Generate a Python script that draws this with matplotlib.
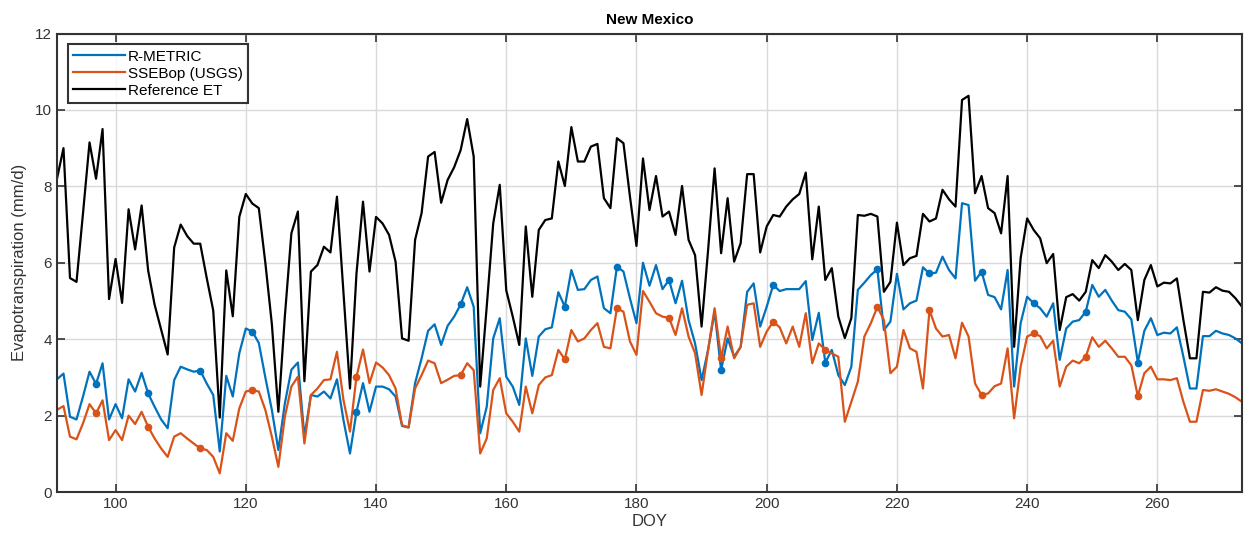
import matplotlib.pyplot as plt
import numpy as np

plt.rcParams['font.family'] = ['Liberation Sans Narrow', 'Liberation Sans', 'DejaVu Sans']

# Day of year, one value per day
doy = np.arange(91, 274)

ref_et = [
    8.2, 9.0, 5.6, 5.5, 7.3, 9.15, 8.2, 9.5, 5.05, 6.1,
    4.95, 7.4, 6.35, 7.5, 5.8, 4.9, 4.25, 3.6, 6.4, 7.0,
    6.7, 6.5, 6.5, 5.6, 4.75, 1.95, 5.8, 4.6, 7.2, 7.8,
    7.55, 7.43, 6.0, 4.4, 2.1, 4.6, 6.77, 7.34, 2.9, 5.77,
    5.94, 6.42, 6.27, 7.73, 5.2, 2.71, 5.72, 7.6, 5.77, 7.2,
    7.03, 6.73, 6.03, 4.02, 3.96, 6.6, 7.3, 8.78, 8.9, 7.57,
    8.17, 8.5, 8.95, 9.76, 8.78, 2.76, 4.85, 7.03, 8.04, 5.28,
    4.59, 3.85, 6.95, 5.11, 6.86, 7.12, 7.16, 8.65, 8.01, 9.55,
    8.65, 8.65, 9.04, 9.11, 7.69, 7.43, 9.26, 9.13, 7.73, 6.44,
    8.73, 7.38, 8.27, 7.21, 7.34, 6.73, 8.01, 6.6, 6.2, 4.33,
    6.33, 8.47, 6.25, 7.69, 6.03, 6.51, 8.32, 8.32, 6.27, 6.95,
    7.25, 7.21, 7.47, 7.66, 7.8, 8.36, 6.09, 7.47, 5.55, 5.86,
    4.59, 4.03, 4.55, 7.25, 7.23, 7.28, 7.21, 5.24, 5.5, 7.05,
    5.94, 6.12, 6.18, 7.28, 7.08, 7.16, 7.91, 7.66, 7.47, 10.26,
    10.37, 7.82, 8.27, 7.43, 7.3, 6.77, 8.27, 3.8, 6.12, 7.16,
    6.86, 6.64, 5.99, 6.23, 4.24, 5.1, 5.18, 5.01, 5.24, 6.07,
    5.86, 6.2, 6.03, 5.81, 5.97, 5.81, 4.5, 5.55, 5.94, 5.38,
    5.48, 5.46, 5.59, 4.5, 3.5, 3.5, 5.24, 5.22, 5.36, 5.27,
    5.24, 5.07, 4.85,
]

r_metric = [
    2.95, 3.1, 1.97, 1.9, 2.5, 3.15, 2.83, 3.37, 1.9, 2.3,
    1.93, 2.95, 2.63, 3.12, 2.58, 2.23, 1.9, 1.67, 2.93, 3.28,
    3.21, 3.15, 3.18, 2.84, 2.54, 1.06, 3.04, 2.5, 3.63, 4.28,
    4.2, 3.9, 3.0, 2.15, 1.1, 2.32, 3.2, 3.39, 1.45, 2.54,
    2.5, 2.63, 2.45, 2.95, 1.88, 1.01, 2.1, 2.85, 2.1, 2.76,
    2.76, 2.69, 2.5, 1.73, 1.69, 2.85, 3.5, 4.22, 4.39, 3.85,
    4.35, 4.59, 4.91, 5.36, 4.85, 1.54, 2.23, 4.02, 4.55, 3.02,
    2.76, 2.28, 4.02, 3.04, 4.07, 4.26, 4.31, 5.23, 4.85, 5.81,
    5.29, 5.31, 5.55, 5.64, 4.81, 4.68, 5.9, 5.77, 5.07, 4.42,
    6.0, 5.4, 5.94, 5.31, 5.55, 4.94, 5.53, 4.5, 3.89, 2.93,
    3.72, 4.72, 3.19, 4.02, 3.54, 3.8, 5.24, 5.46, 4.33, 4.85,
    5.42, 5.26, 5.31, 5.31, 5.31, 5.52, 3.98, 4.69, 3.39, 3.72,
    3.06, 2.8, 3.28, 5.29, 5.48, 5.68, 5.83, 4.24, 4.46, 5.71,
    4.78, 4.94, 5.01, 5.88, 5.72, 5.74, 6.16, 5.81, 5.59, 7.56,
    7.51, 5.53, 5.77, 5.16, 5.1, 4.78, 5.81, 2.76, 4.42, 5.11,
    4.94, 4.81, 4.59, 4.94, 3.46, 4.28, 4.46, 4.5, 4.72, 5.42,
    5.11, 5.29, 5.01, 4.76, 4.72, 4.52, 3.39, 4.22, 4.55, 4.11,
    4.17, 4.15, 4.31, 3.54, 2.71, 2.71, 4.08, 4.08, 4.22, 4.15,
    4.11, 4.02, 3.89,
]

ssebop = [
    2.15, 2.25, 1.45, 1.38, 1.8, 2.3, 2.06, 2.4, 1.36, 1.62,
    1.36, 2.0, 1.78, 2.1, 1.71, 1.4, 1.14, 0.92, 1.45, 1.54,
    1.4, 1.27, 1.14, 1.1, 0.92, 0.49, 1.54, 1.34, 2.19, 2.63,
    2.67, 2.63, 2.15, 1.45, 0.66, 1.97, 2.76, 3.02, 1.27, 2.54,
    2.71, 2.93, 2.95, 3.67, 2.41, 1.58, 3.02, 3.73, 2.85, 3.39,
    3.26, 3.06, 2.71, 1.75, 1.69, 2.71, 3.06, 3.44, 3.37, 2.85,
    2.94, 3.04, 3.06, 3.37, 3.19, 1.01, 1.4, 2.67, 2.98, 2.06,
    1.84, 1.58, 2.76, 2.06, 2.8, 3.0, 3.06, 3.72, 3.47, 4.24,
    3.94, 4.02, 4.24, 4.42, 3.8, 3.76, 4.81, 4.72, 3.94, 3.59,
    5.26, 4.98, 4.68, 4.59, 4.56, 4.11, 4.81, 4.07, 3.63, 2.54,
    3.72, 4.81, 3.5, 4.33, 3.5, 3.8, 4.9, 4.94, 3.8, 4.2,
    4.46, 4.31, 3.89, 4.33, 3.8, 4.68, 3.37, 3.89, 3.72, 3.63,
    3.54, 1.84, 2.36, 2.89, 4.07, 4.42, 4.85, 4.5, 3.11, 3.28,
    4.24, 3.76, 3.67, 2.71, 4.76, 4.28, 4.07, 4.11, 3.5, 4.43,
    4.07, 2.84, 2.54, 2.58, 2.77, 2.84, 3.76, 1.93, 3.28, 4.07,
    4.15, 4.08, 3.76, 3.96, 2.76, 3.28, 3.44, 3.37, 3.54, 4.05,
    3.8, 3.96, 3.76, 3.54, 3.54, 3.32, 2.51, 3.11, 3.28, 2.95,
    2.95, 2.93, 2.98, 2.36, 1.84, 1.84, 2.67, 2.65, 2.69, 2.63,
    2.57, 2.48, 2.36,
]

# Landsat overpass days (markers)
overpass = [97, 105, 113, 121, 137, 153, 169, 177, 185, 193, 201, 209, 217, 225, 233, 241, 249, 257]
r_metric_pts = [2.83, 2.58, 3.18, 4.2, 2.1, 4.91, 4.85, 5.9, 5.55, 3.19, 5.42, 3.39, 5.83, 5.72, 5.77, 4.94, 4.72, 3.39]
ssebop_pts = [2.06, 1.71, 1.14, 2.67, 3.02, 3.06, 3.47, 4.81, 4.56, 3.5, 4.46, 3.72, 4.85, 4.76, 2.54, 4.15, 3.54, 2.51]

blue = '#0072BD'
orange = '#D95319'

fig = plt.figure(figsize=(12.44, 5.36), dpi=100)
ax = fig.add_axes([0.0458, 0.082, 0.9526, 0.8555])

ax.plot(doy, r_metric, color=blue, lw=1.6, label='R-METRIC')
ax.plot(doy, ssebop, color=orange, lw=1.6, label='SSEBop (USGS)')
ax.plot(doy, ref_et, color='black', lw=1.6, label='Reference ET')
ax.plot(overpass, r_metric_pts, 'o', color=blue, ms=4.5)
ax.plot(overpass, ssebop_pts, 'o', color=orange, ms=4.5)

ax.set_xlim(91, 273)
ax.set_ylim(0, 12)
ax.set_xticks(np.arange(100, 261, 20))
ax.set_yticks(np.arange(0, 13, 2))
ax.grid(True, color='#d9d9d9', lw=1)
ax.set_axisbelow(True)
ax.tick_params(direction='in', top=True, right=True, length=6, width=1.2,
               labelsize=11, labelcolor='#333333', color='#333333')
for sp in ax.spines.values():
    sp.set_linewidth(1.5)
    sp.set_color('#333333')

ax.set_title('New Mexico', fontsize=11, fontweight='bold', pad=7)
ax.set_xlabel('DOY', fontsize=12, color='#333333', labelpad=2)
ax.set_ylabel('Evapotranspiration (mm/d)', fontsize=12, color='#333333', labelpad=6)

leg = ax.legend(loc='upper left', fontsize=11, frameon=True, fancybox=False,
                borderpad=0.35, labelspacing=0.2, handlelength=3.4, handletextpad=0.2,
                borderaxespad=0.7)
leg.get_frame().set_edgecolor('black')
leg.get_frame().set_linewidth(1.5)

plt.savefig('out.png', dpi=100)
